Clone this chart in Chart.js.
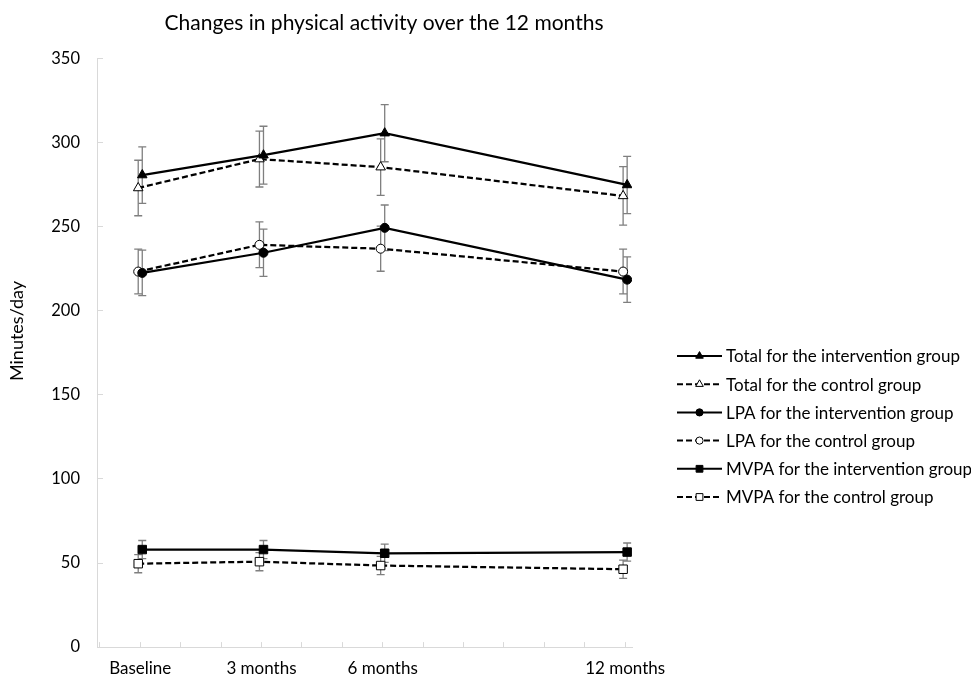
<!DOCTYPE html>
<html><head><meta charset="utf-8">
<script src="https://cdn.jsdelivr.net/npm/chart.js@4.4.0/dist/chart.umd.min.js"></script>
<style>html,body{margin:0;padding:0;background:#fff;overflow:hidden}#wrap{width:971px;height:680px;position:relative;overflow:hidden}canvas{display:block}</style>
</head><body><div id="wrap"><canvas id="c" width="971" height="680"></canvas></div>
<script>
// ---- data ----
const months = [0, 3, 6, 12];
const monthLabels = ['Baseline', '3 months', '6 months', '12 months'];
const seriesNames = [
  'Total for the intervention group',
  'Total for the control group',
  'LPA for the intervention group',
  'LPA for the control group',
  'MVPA for the intervention group',
  'MVPA for the control group'
];
const totalInt = [280.7, 292.5, 305.6, 274.8];
const totalCtl = [273.0, 290.2, 285.4, 268.3];
const lpaInt   = [222.5, 234.5, 249.3, 218.5];
const lpaCtl   = [223.3, 239.2, 236.9, 223.3];
const mvpaInt  = [58.0, 58.0, 55.8, 56.5];
const mvpaCtl  = [49.6, 50.8, 48.5, 46.3];
const totalIntErr = [16.8, 17.2, 17.0, 17.0];
const totalCtlErr = [16.5, 16.6, 16.8, 17.4];
const lpaIntErr   = [13.5, 14.0, 13.6, 13.5];
const lpaCtlErr   = [13.3, 13.6, 13.4, 13.3];
const mvpaIntErr  = [5.4, 5.4, 5.4, 5.4];
const mvpaCtlErr  = [5.4, 5.4, 5.4, 5.4];
const yTicks = [0, 50, 100, 150, 200, 250, 300, 350];
const xTickMonths = [-1, 0, 1, 2, 3, 4, 5, 6, 7, 8, 9, 10, 11, 12];

const FONT = 'Lato';
const dodgeInt = 0.05, dodgeCtl = -0.05;

function pts(vals, dodge) { return vals.map((v, i) => ({ x: months[i] + dodge, y: v })); }

function mk(name, vals, errs, dodge, style, filled, radius, dashed) {
  return {
    label: name,
    data: pts(vals, dodge),
    errors: errs,
    borderColor: '#000',
    borderWidth: 2.25,
    borderDash: dashed ? [6, 3] : [],
    pointStyle: style,
    pointRadius: radius,
    pointHoverRadius: radius,
    pointBackgroundColor: filled ? '#000' : '#fff',
    pointBorderColor: '#000',
    pointBorderWidth: 1,
    fill: false,
    tension: 0
  };
}

const datasets = [
  mk(seriesNames[0], totalInt, totalIntErr, dodgeInt, 'triangle', true, 5.5, false),
  mk(seriesNames[1], totalCtl, totalCtlErr, dodgeCtl, 'triangle', false, 5.5, true),
  mk(seriesNames[2], lpaInt, lpaIntErr, dodgeInt, 'circle', true, 4.5, false),
  mk(seriesNames[3], lpaCtl, lpaCtlErr, dodgeCtl, 'circle', false, 4.5, true),
  mk(seriesNames[4], mvpaInt, mvpaIntErr, dodgeInt, 'rect', true, 6, false),
  mk(seriesNames[5], mvpaCtl, mvpaCtlErr, dodgeCtl, 'rect', false, 6, true)
];

const annot = {
  id: 'annot',
  beforeDatasetsDraw(chart) {
    const ctx = chart.ctx, xs = chart.scales.x, ys = chart.scales.y;
    ctx.save();
    ctx.strokeStyle = '#7f7f7f';
    ctx.lineWidth = 1.3;
    chart.data.datasets.forEach(ds => {
      ds.data.forEach((p, i) => {
        const e = ds.errors[i];
        const x = xs.getPixelForValue(p.x);
        const y1 = ys.getPixelForValue(p.y + e), y2 = ys.getPixelForValue(p.y - e);
        ctx.beginPath();
        ctx.moveTo(x, y1); ctx.lineTo(x, y2);
        ctx.moveTo(x - 4, y1); ctx.lineTo(x + 4, y1);
        ctx.moveTo(x - 4, y2); ctx.lineTo(x + 4, y2);
        ctx.stroke();
      });
    });
    ctx.restore();
  },
  afterDraw(chart) {
    const ctx = chart.ctx;
    ctx.save();
    // title
    ctx.fillStyle = '#000';
    ctx.font = '21px ' + FONT;
    ctx.textAlign = 'center';
    ctx.textBaseline = 'middle';
    ctx.fillText('Changes in physical activity over the 12 months', 384, 23);
    // y title
    ctx.save();
    ctx.translate(17, 331);
    ctx.rotate(-Math.PI / 2);
    ctx.font = '18px ' + FONT;
    ctx.fillText('Minutes/day', 0, 0);
    ctx.restore();
    // legend
    chart.data.datasets.forEach((ds, i) => {
      const y = 356 + i * 28.2;
      ctx.save();
      ctx.strokeStyle = '#000';
      ctx.lineWidth = 2;
      ctx.setLineDash(ds.borderDash);
      ctx.beginPath(); ctx.moveTo(677, y); ctx.lineTo(722, y); ctx.stroke();
      ctx.setLineDash([]);
      ctx.fillStyle = ds.pointBackgroundColor;
      ctx.strokeStyle = '#000';
      ctx.lineWidth = 1;
      Chart.helpers.drawPoint(ctx, { pointStyle: ds.pointStyle, radius: ds.pointRadius * 0.8, borderWidth: 1, rotation: 0 }, 699.5, y);
      ctx.restore();
      ctx.fillStyle = '#000';
      ctx.font = '17px ' + FONT;
      ctx.textAlign = 'left';
      ctx.textBaseline = 'middle';
      ctx.fillText(ds.label, 726, y + 1);
    });
    ctx.restore();
  }
};

new Chart(document.getElementById('c'), {
  type: 'line',
  data: { datasets },
  plugins: [annot],
  options: {
    responsive: false,
    animation: false,
    devicePixelRatio: 1,
    layout: { padding: { left: 0, right: 339, top: 58.5, bottom: 0 } },
    plugins: { legend: { display: false }, title: { display: false }, tooltip: { enabled: false } },
    scales: {
      x: {
        type: 'linear',
        min: -1.07, max: 12.17,
        afterFit(s) { s.height = 27.1; },
        afterBuildTicks(s) { s.ticks = xTickMonths.map(v => ({ value: v })); },
        ticks: {
          autoSkip: false, maxRotation: 0, padding: 16, color: '#000',
          font: { family: FONT, size: 17 },
          callback(v) { const k = months.indexOf(v); return k >= 0 ? monthLabels[k] : ''; }
        },
        grid: { drawOnChartArea: false, drawTicks: true, tickLength: -5, color: '#d9d9d9' },
        border: { color: '#d9d9d9', width: 1 }
      },
      y: {
        min: 0, max: 350,
        afterFit(s) { s.width = 97; },
        afterBuildTicks(s) { s.ticks = yTicks.map(v => ({ value: v })); },
        ticks: { padding: 23, color: '#000', font: { family: FONT, size: 16.5 } },
        grid: { drawOnChartArea: false, drawTicks: true, tickLength: -6, color: '#d9d9d9' },
        border: { color: '#d9d9d9', width: 1 }
      }
    }
  }
});
</script></body></html>
